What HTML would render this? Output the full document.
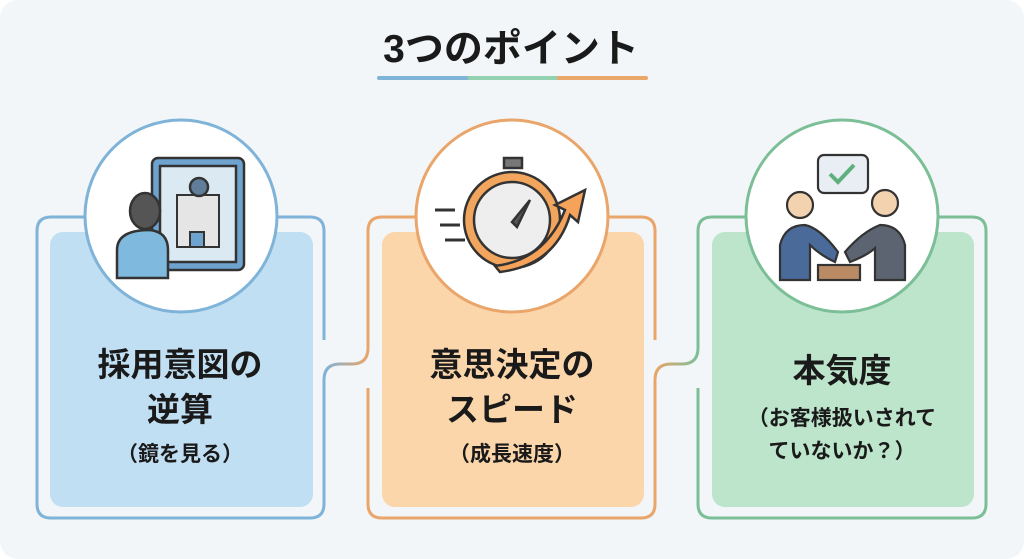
<!DOCTYPE html>
<html><head><meta charset="utf-8"><style>
html,body{margin:0;padding:0;background:#fff;}
svg{display:block;}
text{font-family:"Liberation Sans","Noto Sans CJK JP",sans-serif;font-weight:bold;fill:#1a1a1a;}
</style></head><body>
<svg width="1024" height="559" viewBox="0 0 1024 559" xmlns="http://www.w3.org/2000/svg">
<defs>
<linearGradient id="g1" x1="0" x2="1"><stop offset="0" stop-color="#7fb3d8"/><stop offset="1" stop-color="#e9a56a"/></linearGradient>
<linearGradient id="g2" x1="0" x2="1"><stop offset="0" stop-color="#e9a56a"/><stop offset="1" stop-color="#7cbf97"/></linearGradient>
<linearGradient id="ul" x1="0" x2="1"><stop offset="0" stop-color="#7fb3d8"/><stop offset="0.33" stop-color="#7fb3d8"/><stop offset="0.34" stop-color="#93d1b0"/><stop offset="0.66" stop-color="#93d1b0"/><stop offset="0.67" stop-color="#eaa76a"/><stop offset="1" stop-color="#eaa76a"/></linearGradient>
</defs>
<rect x="0" y="0" width="1024" height="559" rx="18" fill="#f2f6f9"/>
<text x="511" y="62" font-size="39" text-anchor="middle">3つのポイント</text>
<rect x="377" y="76" width="271" height="4" rx="2" fill="url(#ul)"/>

<rect x="50" y="232" width="263" height="275" rx="13" fill="#c0dff3"/>
<rect x="382" y="232" width="262" height="275" rx="13" fill="#fbd6ab"/>
<rect x="712" y="232" width="262" height="275" rx="13" fill="#bce5cc"/>

<g fill="none" stroke-width="3">
<path d="M324,340 V231 Q324,217 310,217 H51 Q37,217 37,231 V504 Q37,518 51,518 H310 Q324,518 324,504 V388" stroke="#7fb3d8"/>
<path d="M655,340 V231 Q655,217 641,217 H382 Q368,217 368,231 V340 M368,388 V504 Q368,518 382,518 H641 Q655,518 655,504 V388" stroke="#e9a56a"/>
<path d="M698,340 V231 Q698,217 712,217 H972 Q986,217 986,231 V504 Q986,518 972,518 H712 Q698,518 698,504 V388" stroke="#7cbf97"/>
<path d="M324,388 V380 Q324,364 340,364 H352 Q368,364 368,348 V340" stroke="url(#g1)"/>
<path d="M655,388 V380 Q655,364 671,364 H682 Q698,364 698,348 V340" stroke="url(#g2)"/>
</g>

<circle cx="181" cy="216" r="96" fill="#fff" stroke="#7fb3d8" stroke-width="3"/>
<circle cx="512" cy="216" r="96" fill="#fff" stroke="#e9a56a" stroke-width="3"/>
<circle cx="842" cy="216" r="96" fill="#fff" stroke="#7cbf97" stroke-width="3"/>

<g stroke="#333" stroke-width="2.5">
<rect x="152" y="158" width="92" height="112" rx="6" fill="#6fa3cf"/>
<rect x="160" y="166" width="76" height="96" fill="#dbe9f3"/>
<rect x="177" y="195" width="42" height="52" fill="#e5e5e5" stroke-width="2"/>
<circle cx="199" cy="187" r="9" fill="#607d9a"/>
<rect x="190" y="232" width="14" height="15" fill="#6fa3cf" stroke-width="2"/>
<path d="M117,278 V250 Q117,230 150,230 Q168,232 168,250 V278 Z" fill="#7fb9de"/>
<ellipse cx="145" cy="211" rx="15" ry="18" fill="#555"/>
</g>
<g stroke="#333" stroke-width="2.5">
<rect x="504" y="158" width="18" height="10" fill="#777"/>
<circle cx="512" cy="220" r="48" fill="#f2a55c"/>
<circle cx="512" cy="220" r="38" fill="#eee"/>
<path d="M512,222 L530,200 L517,227 Z" fill="#555"/>
<path d="M495,266 Q545,260 565,210 L555,205 L585,190 L578,222 L570,215 Q555,265 500,272 Z" fill="#f5a35a"/>
<path d="M435,210 H455 M440,225 H460 M445,240 H465" stroke-width="3"/>
</g>
<g stroke="#333" stroke-width="2.2">
<rect x="818" y="155" width="50" height="38" rx="6" fill="#e8eef3"/>
<path d="M830,174 L838,182 L854,165" stroke="#5fb07f" stroke-width="4" fill="none"/>
<path d="M780,280 V245 Q785,225 805,225 Q820,228 838,252 L835,262 Q820,255 810,245 V280 Z" fill="#4a6a99"/>
<circle cx="800" cy="205" r="13" fill="#f3d2b0"/>
<path d="M905,280 V245 Q900,225 880,225 Q862,232 845,252 L850,262 Q868,255 875,248 V280 Z" fill="#5b6470"/>
<circle cx="885" cy="203" r="13" fill="#f3d2b0"/>
<rect x="818" y="265" width="42" height="15" fill="#b98a63"/>
</g>

<text x="180" y="376" font-size="33" text-anchor="middle">採用意図の</text>
<text x="180" y="421" font-size="33" text-anchor="middle">逆算</text>
<text x="180" y="461" font-size="21" text-anchor="middle">（鏡を見る）</text>
<text x="512" y="376" font-size="33" text-anchor="middle">意思決定の</text>
<text x="512" y="421" font-size="33" text-anchor="middle">スピード</text>
<text x="512" y="461" font-size="21" text-anchor="middle">（成長速度）</text>
<text x="842" y="382" font-size="33" text-anchor="middle">本気度</text>
<text x="842" y="425" font-size="21" text-anchor="middle">（お客様扱いされて</text>
<text x="842" y="458" font-size="21" text-anchor="middle">ていないか？）</text>
</svg>
</body></html>
